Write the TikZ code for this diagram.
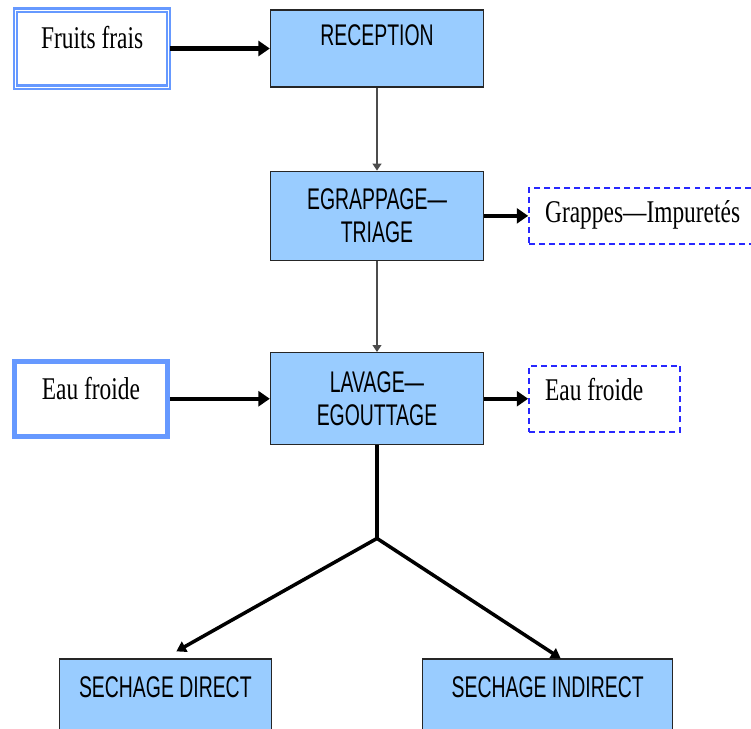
\documentclass[tikz,border=0pt]{standalone}
\usepackage{fontspec}
\usepackage{tikz}
\usetikzlibrary{positioning}
\usetikzlibrary{arrows.meta}

\newfontfamily\narrowserif[FakeStretch=0.74]{Liberation Serif}
\newfontfamily\narrowsans[FakeStretch=0.65]{Liberation Sans}
\definecolor{boxblue}{RGB}{153,204,255}
\definecolor{rimblue}{RGB}{102,153,255}
\definecolor{dashblue}{RGB}{40,40,255}

\begin{document}
\begin{tikzpicture}[
                          x=0.02cm, y=-0.02cm,
                          processnode/.style={rectangle, draw=black!85, fill=boxblue, line width=0.8pt, inner sep=0pt, minimum width=4.26cm, align=center, font=\narrowsans\fontsize{17}{18.8}\selectfont},
                          inputnode/.style={rectangle, draw=rimblue, fill=white, line width=2.8pt, inner sep=0pt, minimum width=3.06cm, font=\narrowserif\fontsize{18}{21}\selectfont},
                          outputnode/.style={rectangle, draw=dashblue, dash pattern=on 3.4pt off 2.3pt, line width=1.1pt, inner xsep=0.32cm, inner ysep=0pt, font=\narrowserif\fontsize{18}{21}\selectfont},
                          thickarrow/.style={->, >={Triangle[length=6.5pt,width=8.5pt]}, line width=2.5pt},
                          thinarrow/.style={->, >={Triangle[length=4pt,width=5pt]}, draw=black!70, line width=1.1pt},
                          splitarrow/.style={->, >={Triangle[length=5.5pt,width=6.5pt]}, line width=2pt},
                      ]
                      \useasboundingbox (0,0) rectangle (751,729);
                      \clip (0,0) rectangle (751,729);

                      % Nodes
                      \node[processnode, text height=0.72cm, text depth=0.82cm]   (reception)   at (377,48.5)   {RECEPTION};
                      \node[processnode, minimum height=1.78cm]   (triage)   [below=1.66cm of reception]   {EGRAPPAGE—\\TRIAGE};
                      \node[processnode, minimum height=1.84cm]   (lavage)   [below=1.82cm of triage]   {LAVAGE—\\EGOUTTAGE};

                      \node[inputnode, double=white, double distance=0.45pt, line width=1.3pt, text height=0.77cm, text depth=0.77cm]   (fruits)   [left=2cm of reception]   {Fruits frais};
                      \node[inputnode, text height=0.77cm, text depth=0.73cm]   (coldwater)   [left=2cm of lavage]   {Eau froide};

                      \node[outputnode, text height=0.7cm, text depth=0.42cm]   (grappes)   [right=0.88cm of triage]   {\makebox[4.32cm][l]{Grappes—Impuretés}};
                      \node[outputnode, text height=0.7cm, text depth=0.62cm]   (waterout)   [right=0.88cm of lavage]   {\makebox[2.38cm][l]{Eau froide}};

                      \coordinate[below=1.86cm of lavage] (split);
                      \node[processnode, minimum width=4.24cm, text height=0.76cm, text depth=2cm]   (direct)   [below left=2.4cm and 2.1cm of split]   {SECHAGE DIRECT};
                      \node[processnode, minimum width=5cm, text height=0.76cm, text depth=2cm]   (indirect)   [below right=2.4cm and 0.9cm of split]   {SECHAGE INDIRECT};

                      %Lines
                      \draw[thickarrow] (fruits.east) -- (reception.west);
                      \draw[thinarrow] (reception.south) -- (triage.north);
                      \draw[thickarrow] (triage.east) -- (grappes.west);
                      \draw[thinarrow] (triage.south) -- (lavage.north);
                      \draw[thickarrow] (coldwater.east) -- (lavage.west);
                      \draw[thickarrow] (lavage.east) -- (waterout.west);
                      \draw[line width=2pt] (lavage.south) -- (split);
                      \draw[splitarrow] (split) -- ([xshift=0.22cm, yshift=0.14cm]direct.north);
                      \draw[splitarrow] (split) -- ([xshift=0.26cm]indirect.north);
                  \end{tikzpicture}
\end{document}
